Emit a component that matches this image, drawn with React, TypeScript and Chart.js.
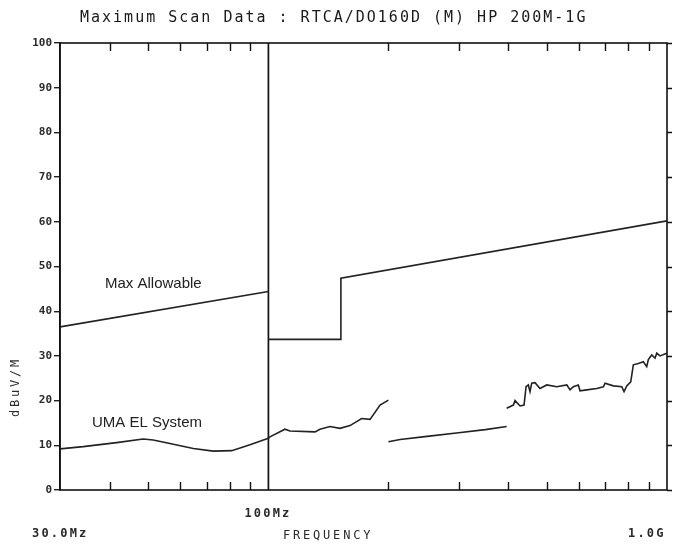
import React, { useEffect, useRef } from "react";
import { Chart, registerables } from "chart.js";

Chart.register(...registerables);

const TITLE = "Maximum Scan Data : RTCA/DO160D (M) HP 200M-1G";
const Y_TITLE = "dBuV/M";
const X_TITLE = "FREQUENCY";
const X_START_LABEL = "30.0Mz";
const X_MID_LABEL = "100Mz";
const X_END_LABEL = "1.0G";
const LIMIT_LABEL = "Max Allowable";
const TRACE_LABEL = "UMA EL System";

const Y_TICKS = [0, 10, 20, 30, 40, 50, 60, 70, 80, 90, 100];
const X_MINOR_TICKS = [40, 50, 60, 70, 80, 90, 200, 300, 400, 500, 600, 700, 800, 900];
const X_MIN = 30;
const X_MAX = 1000;
const BAND_EDGE = 100;

// Max allowable limit (MHz, dBuV/m)
const limitLowFreq = [30, 100];
const limitLowVal = [36.5, 44.4];
const limitHighFreq = [100, 152, 152, 1000];
const limitHighVal = [33.7, 33.7, 47.4, 60.2];

// Measured emissions (MHz, dBuV/m)
const scanAFreq = [30, 34.3, 41.6, 48.5, 51.4, 56.6, 64.8, 72.7, 80.9, 89.9, 100];
const scanAVal = [9.2, 9.7, 10.6, 11.4, 11.2, 10.4, 9.3, 8.7, 8.8, 10.1, 11.6];

const scanBFreq = [100, 100.9, 110, 113.3, 130.9, 134.7, 142.7, 151.2, 160.2, 171.4, 179.9, 190.6, 200];
const scanBVal = [11.6, 11.9, 13.6, 13.2, 13.0, 13.6, 14.2, 13.8, 14.4, 16.0, 15.8, 19.0, 20.1];

const scanCFreq = [200, 214, 250, 300, 350, 396];
const scanCVal = [10.8, 11.3, 12.0, 12.8, 13.5, 14.2];

const scanDFreq = [396, 411.7, 415.7, 427.9, 437.9, 443, 448.8, 453.2, 457.7, 466.5, 480.2, 499.2, 529, 560.5, 571.2, 582.2, 599.2, 605, 628.9, 666.5, 692.5, 699.2, 733.5, 769.9, 780.2, 792.6, 811, 823.3, 847.4, 872.1, 889.4, 897.8, 915.6, 933.3, 942.4, 960.5, 998.4];
const scanDVal = [18.3, 19.0, 20.0, 18.8, 19.0, 23.1, 23.5, 22.0, 23.9, 24.0, 22.7, 23.5, 23.1, 23.5, 22.4, 23.1, 23.5, 22.2, 22.4, 22.7, 23.1, 23.9, 23.3, 23.1, 22.0, 23.3, 24.2, 28.0, 28.3, 28.7, 27.6, 29.2, 30.2, 29.5, 30.6, 30.0, 30.6];

const dividerFreq = [BAND_EDGE, BAND_EDGE];
const dividerVal = [0, 100];

const pts = (xs: number[], ys: number[]) => xs.map((x, i) => ({ x, y: ys[i] }));

const INK = "#222";
const MONO = "'DejaVu Sans Mono', monospace";

const decor = {
  id: "decor",
  afterDraw(chart: any) {
    const { ctx, chartArea: a, scales } = chart;
    const xs = scales.x;
    const ys = scales.y;
    ctx.save();
    ctx.strokeStyle = "#111";
    ctx.lineWidth = 1.6;
    ctx.strokeRect(a.left, a.top, a.right - a.left, a.bottom - a.top);
    ctx.lineWidth = 1.4;
    ctx.beginPath();
    X_MINOR_TICKS.forEach((f) => {
      const px = Math.round(xs.getPixelForValue(f)) + 0.5;
      ctx.moveTo(px, a.bottom);
      ctx.lineTo(px, a.bottom - 8);
      ctx.moveTo(px, a.top);
      ctx.lineTo(px, a.top + 8);
    });
    Y_TICKS.forEach((v) => {
      const py = Math.round(ys.getPixelForValue(v)) + 0.5;
      ctx.moveTo(a.right, py);
      ctx.lineTo(a.right + 5, py);
    });
    ctx.stroke();

    ctx.fillStyle = "#1a1a1a";
    ctx.textBaseline = "alphabetic";
    ctx.textAlign = "left";
    ctx.font = `15px ${MONO}`;
    (ctx as any).letterSpacing = "2px";
    ctx.fillText(TITLE, 80, 22);

    ctx.fillStyle = "#2a2a2a";
    ctx.font = `bold 12px ${MONO}`;
    (ctx as any).letterSpacing = "2.2px";
    ctx.fillText(X_START_LABEL, 32, 537);
    ctx.fillText(X_MID_LABEL, xs.getPixelForValue(BAND_EDGE) - 24, 517);
    ctx.fillText(X_END_LABEL, 628, 537);
    (ctx as any).letterSpacing = "2.8px";
    ctx.font = `12px ${MONO}`;
    ctx.fillText(X_TITLE, 283, 539);

    ctx.save();
    ctx.translate(19, 387);
    ctx.rotate(-Math.PI / 2);
    ctx.textAlign = "center";
    ctx.font = `12px ${MONO}`;
    (ctx as any).letterSpacing = "2.8px";
    ctx.fillText(Y_TITLE, 0, 0);
    ctx.restore();

    (ctx as any).letterSpacing = "0px";
    ctx.fillStyle = "#222";
    ctx.font = "15px 'Liberation Sans', Arial, sans-serif";
    ctx.fillText(LIMIT_LABEL, 105, 288);
    ctx.fillText(TRACE_LABEL, 92, 427);
    ctx.restore();
  },
};

const line = (data: any[], color = INK, width = 1.6) => ({
  data,
  borderColor: color,
  borderWidth: width,
  pointRadius: 0,
  showLine: true,
  fill: false,
  tension: 0,
});

export default function App() {
  const ref = useRef<HTMLCanvasElement>(null);
  useEffect(() => {
    if (!ref.current) return;
    const chart = new Chart(ref.current, {
      type: "scatter",
      data: {
        datasets: [
          line(pts(limitLowFreq, limitLowVal)),
          line(pts(limitHighFreq, limitHighVal)),
          line(pts(scanAFreq, scanAVal)),
          line(pts(scanBFreq, scanBVal)),
          line(pts(scanCFreq, scanCVal)),
          line(pts(scanDFreq, scanDVal)),
          line(pts(dividerFreq, dividerVal), "#111", 1.7),
        ] as any,
      },
      options: {
        responsive: false,
        animation: false,
        events: [],
        layout: { padding: { top: 43, right: 24, bottom: 56, left: 0 } },
        plugins: { legend: { display: false }, tooltip: { enabled: false }, title: { display: false } },
        scales: {
          x: { type: "logarithmic", min: X_MIN, max: X_MAX, display: false },
          y: {
            type: "linear",
            min: 0,
            max: 100,
            afterBuildTicks: (axis: any) => {
              axis.ticks = Y_TICKS.map((v) => ({ value: v }));
            },
            afterFit: (s: any) => {
              s.width = 60;
            },
            ticks: {
              color: "#2a2a2a",
              font: { family: "DejaVu Sans Mono", size: 11, weight: "bold" },
              padding: 2,
              callback: (v: any) => String(v),
            },
            grid: { drawOnChartArea: false, drawTicks: true, tickLength: 6, color: "#222", lineWidth: 1.4 },
            border: { display: true, color: "#111", width: 1.6 },
          },
        },
      } as any,
      plugins: [decor],
    });
    return () => chart.destroy();
  }, []);
  return (
    <div style={{ position: "fixed", left: 0, top: 0, width: 691, height: 546, background: "#fff" }}>
      <canvas ref={ref} width={691} height={546} style={{ display: "block" }} />
    </div>
  );
}
